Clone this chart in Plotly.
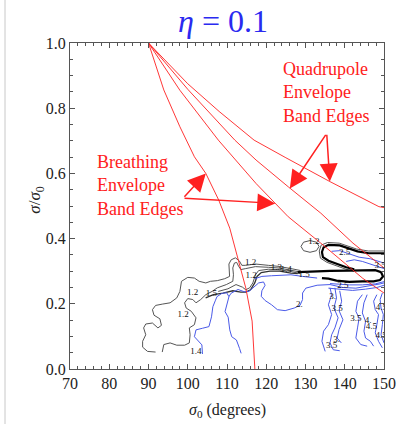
import plotly.graph_objects as go

# ---------------- data ----------------
# Red band-edge curves, all starting at (90, 1.0)
breath1_x = [90.0, 93.9, 98.0, 101.7, 104.6, 107.9, 110.7, 114.8, 116.4, 117.1]
breath1_y = [1.0, 0.856, 0.743, 0.651, 0.600, 0.518, 0.432, 0.248, 0.147, 0.0]
breath2_x = [90.0, 98.0, 107.8, 117.4, 125.6, 133.9, 144.6, 150.0]
breath2_y = [1.0, 0.855, 0.702, 0.569, 0.467, 0.386, 0.278, 0.233]
quad1_x = [90.0, 100.0, 112.0, 117.4, 125.6, 133.9, 142.1, 150.0]
quad1_y = [1.0, 0.858, 0.702, 0.641, 0.559, 0.478, 0.386, 0.31]
quad2_x = [90.0, 100.0, 108.0, 116.9, 125.0, 136.2, 148.7, 150.0]
quad2_y = [1.0, 0.875, 0.79, 0.702, 0.648, 0.575, 0.498, 0.495]

# Black / gray contour lines (levels 1.2 - 1.5)
c12_outer_x = [91.8, 89.75, 88.5, 88.5, 89.3, 88.76, 89.3, 91.0, 92.4, 93.3, 92.9, 91.4, 91.0, 91.8, 93.5, 95.5,
               97.2, 98.0, 98.4, 100.0, 101.7, 102.9, 104.6, 105.8, 107.53, 109.42, 110.66, 110.66, 110.49,
               111.07, 112.14, 113.12, 113.78, 114.77, 117.24, 120.53, 123.0, 126.29, 128.76]
c12_outer_y = [0.052, 0.054, 0.067, 0.085, 0.105, 0.126, 0.138, 0.141, 0.126, 0.134, 0.154, 0.165, 0.182, 0.195,
               0.199, 0.203, 0.218, 0.238, 0.269, 0.281, 0.279, 0.269, 0.264, 0.269, 0.271, 0.277, 0.284, 0.305,
               0.322, 0.335, 0.341, 0.332, 0.318, 0.318, 0.322, 0.318, 0.315, 0.308, 0.302]
c13_x = [93.5, 93.9, 95.5, 97.2, 99.2, 100.4, 100.6, 100.4, 101.7, 102.1, 100.9, 99.6, 99.2, 100.0, 101.3, 102.1,
         103.3, 104.6, 106.2, 107.53, 109.83, 111.48, 111.64, 111.48, 111.89, 112.47, 112.96, 113.54, 114.77,
         117.24, 120.53, 123.0, 126.29, 128.76]
c13_y = [0.052, 0.075, 0.080, 0.073, 0.073, 0.080, 0.105, 0.126, 0.136, 0.157, 0.177, 0.187, 0.203, 0.216, 0.213,
         0.203, 0.213, 0.228, 0.238, 0.249, 0.259, 0.269, 0.289, 0.310, 0.325, 0.327, 0.315, 0.305, 0.308,
         0.314, 0.312, 0.310, 0.303, 0.297]
c14_x = [107.77, 110.24, 112.3, 113.95, 114.77, 115.76, 116.58, 117.24, 118.06, 120.53, 123.0, 126.29, 128.76]
c14_y = [0.238, 0.246, 0.259, 0.251, 0.243, 0.249, 0.264, 0.289, 0.302, 0.306, 0.305, 0.299, 0.292]
c15_x = [104.56, 106.54, 109.01, 111.48, 113.54, 114.77, 116.0, 117.07, 117.65, 118.72, 120.94, 123.41, 126.29, 128.02]
c15_y = [0.218, 0.228, 0.233, 0.240, 0.236, 0.236, 0.243, 0.264, 0.284, 0.296, 0.300, 0.300, 0.294, 0.293]
# thick black tongues (level 1.5)
tongue_top_x = [150.0, 146.13, 143.25, 141.19, 138.72, 135.84, 134.6, 134.19, 134.44, 135.84, 137.9, 140.37, 142.42]
tongue_top_y = [0.355, 0.355, 0.361, 0.369, 0.379, 0.381, 0.373, 0.359, 0.343, 0.332, 0.322, 0.312, 0.306]
tongue_low_x = [128.02, 131.31, 136.25, 141.19, 145.3, 147.77, 149.25, 149.75, 149.0, 147.36, 144.48, 141.19,
                137.9, 135.84, 134.19]
tongue_low_y = [0.297, 0.299, 0.301, 0.302, 0.303, 0.303, 0.297, 0.284, 0.273, 0.269, 0.269, 0.267, 0.271,
                0.277, 0.279]
gray_top_x = [150.0, 146.0, 143.0, 141.0, 138.6, 135.6, 134.0, 133.5, 133.8, 135.5, 137.8, 140.3, 142.4]
gray_top_y = [0.362, 0.362, 0.368, 0.376, 0.386, 0.388, 0.380, 0.362, 0.340, 0.327, 0.316, 0.306, 0.300]
ellipse_x = [128.85, 129.5, 131.15, 132.8, 133.45, 132.8, 131.15, 129.5, 128.85]
ellipse_y = [0.376, 0.389, 0.394, 0.389, 0.376, 0.363, 0.358, 0.363, 0.376]

# Blue contour lines (levels 2 - 4.5)
b2_left_x = [103.75, 103.6, 101.7, 102.1, 103.75, 105.4, 106.05, 106.4, 107.0, 107.45, 108.7, 109.9, 110.5,
             109.9, 109.5, 110.3, 110.7, 111.2, 112.4, 113.2, 113.6]
b2_left_y = [0.046, 0.074, 0.099, 0.12, 0.125, 0.13, 0.16, 0.191, 0.209, 0.222, 0.232, 0.234, 0.222, 0.196,
             0.176, 0.159, 0.12, 0.099, 0.089, 0.063, 0.048]
b2_mid_x = [110.5, 111.0, 112.8, 114.4, 115.59, 116.83, 118.06, 119.3, 119.71, 118.89, 118.72, 119.71, 121.35,
            122.84, 124.81, 127.12, 128.6, 129.25, 129.25, 130.08, 132.96, 136.25, 139.54, 142.83, 146.13,
            149.0, 150.0]
b2_mid_y = [0.222, 0.232, 0.244, 0.237, 0.238, 0.251, 0.264, 0.267, 0.257, 0.240, 0.223, 0.210, 0.197, 0.182,
            0.179, 0.187, 0.195, 0.213, 0.233, 0.248, 0.257, 0.259, 0.25, 0.248, 0.254, 0.261, 0.264]
b_under_x = [117.07, 118.89, 121.35, 123.82, 126.29, 129.25, 132.96]
b_under_y = [0.277, 0.284, 0.286, 0.287, 0.289, 0.284, 0.279]
bu1_x = [136.25, 138.72, 141.19, 144.48, 147.77, 150.0]
bu1_y = [0.262, 0.26, 0.258, 0.258, 0.261, 0.268]
bu2_x = [135.84, 138.72, 142.01, 145.3, 148.19, 150.0]
bu2_y = [0.248, 0.245, 0.241, 0.245, 0.25, 0.257]
blu1_x = [136.66, 138.72, 141.19, 143.66, 146.54, 149.01, 150.0]
blu1_y = [0.361, 0.363, 0.353, 0.343, 0.338, 0.33, 0.325]
blu2_x = [140.37, 142.42, 144.48, 146.95, 149.01, 150.0]
blu2_y = [0.33, 0.335, 0.33, 0.32, 0.312, 0.308]
v1_x = [136.25, 136.66, 135.84, 136.66, 135.84, 134.6, 134.19, 135.02]
v1_y = [0.249, 0.228, 0.197, 0.167, 0.136, 0.116, 0.085, 0.054]
v2_x = [137.49, 137.9, 137.24, 138.31, 137.49, 136.66, 136.25, 137.07, 138.72]
v2_y = [0.249, 0.218, 0.187, 0.157, 0.126, 0.105, 0.08, 0.059, 0.056]
v3_x = [138.72, 139.21, 138.55, 139.54, 138.55, 138.06, 139.13]
v3_y = [0.24, 0.208, 0.179, 0.151, 0.121, 0.095, 0.08]
r1_x = [144.48, 143.25, 142.83, 143.66, 143.25, 142.83, 144.07, 145.71]
r1_y = [0.228, 0.208, 0.177, 0.156, 0.126, 0.095, 0.075, 0.07]
r2_x = [145.71, 144.89, 144.48, 145.3, 144.89, 145.3, 146.54, 147.36]
r2_y = [0.228, 0.203, 0.172, 0.146, 0.116, 0.095, 0.085, 0.07]
r3_x = [148.18, 147.36, 147.77, 148.6, 148.18, 147.77, 148.6, 149.58]
r3_y = [0.228, 0.208, 0.182, 0.167, 0.136, 0.111, 0.085, 0.065]
r4_x = [149.58, 149.01, 149.25, 149.83, 149.58, 149.25, 150.0]
r4_y = [0.233, 0.213, 0.187, 0.167, 0.136, 0.105, 0.08]

# contour labels
lab_x = [101.27, 98.8, 106.0, 102.1, 116.0, 116.17, 122.59, 125.06, 129.67, 132.14,
         139.95, 149.0, 139.54, 128.43, 136.91, 138.06, 142.83, 145.96, 146.78, 149.3, 149.25, 137.9, 136.66]
lab_y = [0.233, 0.165, 0.23, 0.052, 0.327, 0.287, 0.31, 0.303, 0.289, 0.39,
         0.356, 0.318, 0.256, 0.197, 0.223, 0.185, 0.154, 0.148, 0.131, 0.189, 0.103, 0.09, 0.07]
lab_t = ["1.2", "1.2", "1.5", "1.4", "1.2", "1.2", "1.3", "1.4", "1.5", "1.2",
         "2.5", "3.5", "2.5", "2.", "3.", "3.5", "3.5", "4.", "4.5", "4.5", "4.5", "3.", "3.5"]

x_ticks = [70, 80, 90, 100, 110, 120, 130, 140, 150]
y_ticks = [0.0, 0.2, 0.4, 0.6, 0.8, 1.0]

SERIF = "Liberation Serif"
RED = "#ff2020"
BLUE = "#4a5ae8"
GRAY = "#555555"

fig = go.Figure()

def line(x, y, color, width=1.0):
    fig.add_trace(go.Scatter(x=x, y=y, mode="lines", line=dict(color=color, width=width),
                             hoverinfo="skip", showlegend=False))

for xs, ys in [(c12_outer_x, c12_outer_y), (c13_x, c13_y), (c14_x, c14_y), (gray_top_x, gray_top_y),
               (ellipse_x, ellipse_y)]:
    line(xs, ys, GRAY, 1.0)
line(c15_x, c15_y, "#333333", 1.3)
for xs, ys in [(b2_left_x, b2_left_y), (b2_mid_x, b2_mid_y), (b_under_x, b_under_y), (bu1_x, bu1_y),
               (bu2_x, bu2_y), (blu1_x, blu1_y), (blu2_x, blu2_y), (v1_x, v1_y), (v2_x, v2_y), (v3_x, v3_y),
               (r1_x, r1_y), (r2_x, r2_y), (r3_x, r3_y), (r4_x, r4_y)]:
    line(xs, ys, BLUE, 1.0)
line(tongue_top_x, tongue_top_y, "#000000", 2.2)
line(tongue_low_x, tongue_low_y, "#000000", 2.2)

for xs, ys in [(breath1_x, breath1_y), (breath2_x, breath2_y), (quad1_x, quad1_y), (quad2_x, quad2_y)]:
    line(xs, ys, RED, 0.9)

fig.add_trace(go.Scatter(x=lab_x, y=lab_y, mode="text", text=lab_t,
                         textfont=dict(family=SERIF, size=9, color="#111111"),
                         hoverinfo="skip", showlegend=False))

# text labels with arrows
fig.add_annotation(x=76.4, y=0.564, xref="x", yref="y", text="Breathing<br>Envelope<br>Band Edges",
                   showarrow=False, xanchor="left", yanchor="middle", align="left",
                   font=dict(family=SERIF, size=18, color=RED))
fig.add_annotation(x=123.8, y=0.848, xref="x", yref="y", text="Quadrupole<br>Envelope<br>Band Edges",
                   showarrow=False, xanchor="left", yanchor="middle", align="left",
                   font=dict(family=SERIF, size=18, color=RED))
arrows = [((98.8, 0.524), (104.6, 0.600)), ((98.8, 0.524), (122.3, 0.508)),
          ((135.4, 0.723), (126.0, 0.554)), ((135.4, 0.723), (136.2, 0.575))]
for (tx, ty), (hx, hy) in arrows:
    fig.add_annotation(x=hx, y=hy, ax=tx, ay=ty, xref="x", yref="y", axref="x", ayref="y",
                       text="", showarrow=True, arrowhead=2, arrowsize=2.4, arrowwidth=1.5,
                       arrowcolor=RED, standoff=0)

# title and axis labels
fig.add_annotation(x=0.488, y=1.067, xref="paper", yref="paper", text="<i>η</i> = 0.1", showarrow=False,
                   yanchor="middle", font=dict(family=SERIF, size=32, color="#2a2af0"))
fig.add_annotation(x=-0.148, y=0.518, xref="paper", yref="paper", text="<i>σ</i>/<i>σ</i><sub>0</sub>",
                   showarrow=False, textangle=-90, font=dict(family=SERIF, size=17, color="#222222"))
fig.add_annotation(x=0.5, y=-0.126, xref="paper", yref="paper", text="<i>σ</i><sub>0</sub> (degrees)",
                   showarrow=False, yanchor="middle", font=dict(family=SERIF, size=16, color="#222222"))

fig.add_shape(type="line", xref="paper", yref="paper", x0=-0.207, x1=-0.207, y0=-0.2, y1=1.2,
              line=dict(color="#c8c8c8", width=1))

axis_common = dict(showline=True, linecolor=GRAY, linewidth=1, mirror="ticks", ticks="inside",
                   ticklen=5, tickcolor=GRAY, showgrid=False, zeroline=False,
                   tickfont=dict(family=SERIF, size=16, color="#222222"))
fig.update_xaxes(range=[70, 150], tickvals=x_ticks, ticktext=[str(v) for v in x_ticks],
                 minor=dict(dtick=2, ticks="inside", ticklen=3, tickcolor=GRAY), **axis_common)
fig.update_yaxes(range=[0, 1], tickvals=y_ticks, ticktext=[f"{v:.1f}" for v in y_ticks],
                 minor=dict(dtick=0.05, ticks="inside", ticklen=3, tickcolor=GRAY), **axis_common)

fig.update_layout(width=408, height=424, autosize=False, margin=dict(l=70, r=14, t=43, b=55),
                  plot_bgcolor="white", paper_bgcolor="white", showlegend=False,
                  font=dict(family=SERIF))

fig.write_html("out.html", config={"displayModeBar": False, "responsive": False},
               post_script="document.body.style.margin='0px';document.body.style.overflow='hidden';")
